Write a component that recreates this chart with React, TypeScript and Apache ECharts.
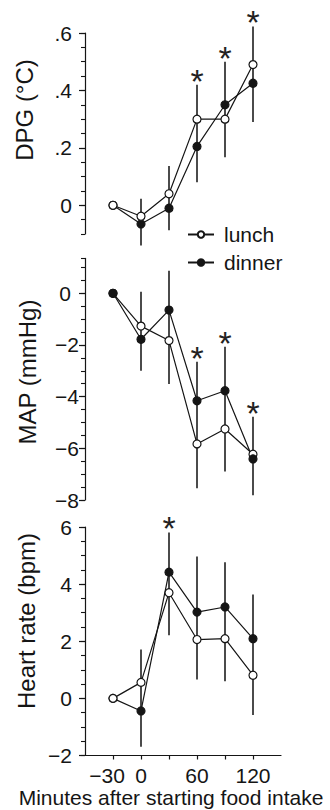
import React, { useEffect, useRef } from "react";
import * as echarts from "echarts";

// ---- data ----
const times = [-30, 0, 30, 60, 90, 120];
const xTickValues = [-30, 0, 30, 60, 90, 120];
const xLabelValues = [-30, 0, 60, 120];

const dpgLunch = [0, -0.038, 0.04, 0.3, 0.3, 0.49];
const dpgDinner = [0, -0.065, -0.01, 0.205, 0.35, 0.425];
const dpgErrLow = [null, -0.14, -0.087, 0.08, 0.167, 0.29];
const dpgErrHigh = [null, 0.023, 0.137, 0.42, 0.5, 0.623];
const dpgSig = [false, false, false, true, true, true];
const dpgTicks = [0, 0.2, 0.4, 0.6];

const mapLunch = [0, -1.27, -1.83, -5.83, -5.25, -6.23];
const mapDinner = [0, -1.78, -0.65, -4.16, -3.77, -6.41];
const mapErrLow = [null, -3.0, -3.51, -7.55, -6.9, -7.82];
const mapErrHigh = [null, 0.06, 0.87, -2.65, -2.07, -4.78];
const mapSig = [false, false, false, true, true, true];
const mapTicks = [-8, -6, -4, -2, 0];

const hrLunch = [0, 0.56, 3.7, 2.06, 2.09, 0.81];
const hrDinner = [0, -0.44, 4.42, 3.02, 3.2, 2.09];
const hrErrLow = [null, -1.69, 2.21, 0.66, 0.6, -0.58];
const hrErrHigh = [null, 1.71, 5.81, 4.97, 4.77, 3.64];
const hrSig = [false, false, true, false, false, false];
const hrTicks = [-2, 0, 2, 4, 6];

const seriesNames = ["lunch", "dinner"];
const yNames = ["DPG (°C)", "MAP (mmHg)", "Heart rate (bpm)"];
const xTitle = "Minutes after starting food intake";

// ---- style / layout ----
const FONT = "'Liberation Sans', Arial, Helvetica, sans-serif";
const INK = "#151515";
const minus = (s: string) => s.replace("-", "\u2212");
const labelText = { fontSize: 21, fontFamily: FONT, color: INK };

const panels = [
  {
    lunch: dpgLunch, dinner: dpgDinner, low: dpgErrLow, high: dpgErrHigh, sig: dpgSig,
    ticks: dpgTicks, min: -0.1, max: 0.6, minor: 0.05,
    fmt: (v: number) => (Math.abs(v) < 1e-9 ? "0" : v.toFixed(1).replace(/^0\./, ".")),
    margin: 13,
    grid: { left: 85, top: 33, width: 196, height: 201 },
    lunchOnTop: true,
    nameX: 24, nameY: 110,
  },
  {
    lunch: mapLunch, dinner: mapDinner, low: mapErrLow, high: mapErrHigh, sig: mapSig,
    ticks: mapTicks, min: -8, max: 1.35, minor: 0.5,
    fmt: (v: number) => (Math.round(v) === 0 ? "{z|0}" : minus(String(Math.round(v)))),
    margin: 6,
    grid: { left: 85, top: 258.4, width: 196, height: 241.6 },
    lunchOnTop: false,
    nameX: 27, nameY: 372,
  },
  {
    lunch: hrLunch, dinner: hrDinner, low: hrErrLow, high: hrErrHigh, sig: hrSig,
    ticks: hrTicks, min: -2, max: 6, minor: 0.5,
    fmt: (v: number) => minus(String(Math.round(v))),
    margin: 13,
    grid: { left: 85, top: 527, width: 196, height: 228.5 },
    lunchOnTop: true,
    nameX: 26, nameY: 621,
  },
];

export default function App() {
  const ref = useRef<HTMLDivElement>(null);

  useEffect(() => {
    if (!ref.current) return;
    const chart = echarts.init(ref.current, undefined, { renderer: "svg" });

    const grid: any[] = [];
    const xAxis: any[] = [];
    const yAxis: any[] = [];
    const series: any[] = [];
    const graphic: any[] = [];

    panels.forEach((p, i) => {
      grid.push({ ...p.grid, containLabel: false });
      const isBottom = i === panels.length - 1;
      xAxis.push({
        type: "value",
        gridIndex: i,
        position: "bottom",
        min: -60,
        max: 150,
        show: isBottom,
        axisLine: { show: true, onZero: false, lineStyle: { color: INK, width: 1.2 } },
        axisTick: {
          show: true,
          customValues: xTickValues,
          length: 4,
          lineStyle: { color: INK, width: 1.2 },
        },
        axisLabel: {
          show: true,
          customValues: xLabelValues,
          formatter: (v: number) => (v < 0 ? "{n|" + minus(String(v)) + "}" : String(v)),
          ...labelText,
          rich: { n: { ...labelText, padding: [0, 12, 0, 0] } },
          margin: 9,
        },
        splitLine: { show: false },
      });
      const mainIdx = yAxis.length;
      yAxis.push({
        type: "value",
        gridIndex: i,
        position: "left",
        min: p.min,
        max: p.max,
        axisLine: { show: true, onZero: false, lineStyle: { color: INK, width: 1.2 } },
        axisTick: {
          show: true,
          customValues: p.ticks,
          length: 6,
          lineStyle: { color: INK, width: 1.2 },
        },
        axisLabel: {
          show: true,
          customValues: p.ticks,
          formatter: p.fmt,
          ...labelText,
          rich: { z: { ...labelText, padding: [0, 8, 0, 0] } },
          margin: p.margin,
        },
        splitLine: { show: false },
      });
      yAxis.push({
        type: "value",
        gridIndex: i,
        position: "left",
        min: p.min,
        max: p.max,
        interval: p.minor,
        axisLine: { show: false, onZero: false },
        axisTick: { show: true, length: 4, lineStyle: { color: INK, width: 1.1 } },
        axisLabel: { show: false },
        splitLine: { show: false },
      });

      const errData = times
        .map((t, k) => [t, p.low[k], p.high[k], p.sig[k] ? 1 : 0])
        .filter((r) => r[1] !== null);

      series.push({
        type: "custom",
        xAxisIndex: i,
        yAxisIndex: mainIdx,
        clip: false,
        silent: true,
        z: 1,
        data: errData,
        renderItem: (params: any, api: any) => {
          const x = api.value(0);
          const lo = api.value(1);
          const hi = api.value(2);
          const s = api.value(3);
          const p1 = api.coord([x, lo]);
          const p2 = api.coord([x, hi]);
          const children: any[] = [
            {
              type: "line",
              shape: { x1: p1[0], y1: p1[1], x2: p2[0], y2: p2[1] },
              style: { stroke: "#1e1e1e", lineWidth: 1.6 },
            },
          ];
          if (s) {
            children.push({
              type: "text",
              x: p2[0],
              y: p2[1] - 4,
              style: {
                text: "*",
                font: "34px " + FONT,
                fontSize: 34,
                fontFamily: FONT,
                fill: "#222",
                align: "center",
                verticalAlign: "middle",
              },
            });
          }
          return { type: "group", children };
        },
      });

      const mk = (name: string, vals: number[], filled: boolean) => ({
        type: "line",
        name,
        xAxisIndex: i,
        yAxisIndex: mainIdx,
        data: times.map((t, k) => [t, vals[k]]),
        symbol: "circle",
        symbolSize: 8,
        showSymbol: true,
        z: 3,
        lineStyle: { color: INK, width: 1.2 },
        itemStyle: { color: filled ? INK : "#ffffff", borderColor: INK, borderWidth: 1.2 },
        emphasis: { disabled: true },
      });
      const l = mk(seriesNames[0], p.lunch, false);
      const d = mk(seriesNames[1], p.dinner, true);
      if (p.lunchOnTop) series.push(d, l);
      else series.push(l, d);

      graphic.push({
        type: "text",
        x: p.nameX,
        y: p.nameY,
        rotation: Math.PI / 2,
        style: {
          text: yNames[i],
          font: "24px " + FONT,
          fontSize: 24,
          fontFamily: FONT,
          fill: INK,
          align: "center",
          verticalAlign: "middle",
        },
      });
    });

    graphic.push({
      type: "text",
      x: 171,
      y: 797,
      style: {
        text: xTitle,
        font: "21px " + FONT,
        fontSize: 21,
        fontFamily: FONT,
        fill: INK,
        align: "center",
        verticalAlign: "middle",
      },
    });

    chart.setOption({
      animation: false,
      backgroundColor: "#ffffff",
      grid,
      xAxis,
      yAxis,
      series,
      graphic,
      legend: {
        data: seriesNames,
        orient: "vertical",
        left: 182,
        top: 219,
        itemWidth: 26,
        itemHeight: 8,
        itemGap: 7,
        selectedMode: false,
        textStyle: { fontSize: 21, fontFamily: FONT, color: INK, padding: [0, 0, 0, 5] },
      },
    });

    return () => chart.dispose();
  }, []);

  return (
    <div
      ref={ref}
      style={{ position: "fixed", left: 0, top: 0, width: 330, height: 810, background: "#fff" }}
    />
  );
}
